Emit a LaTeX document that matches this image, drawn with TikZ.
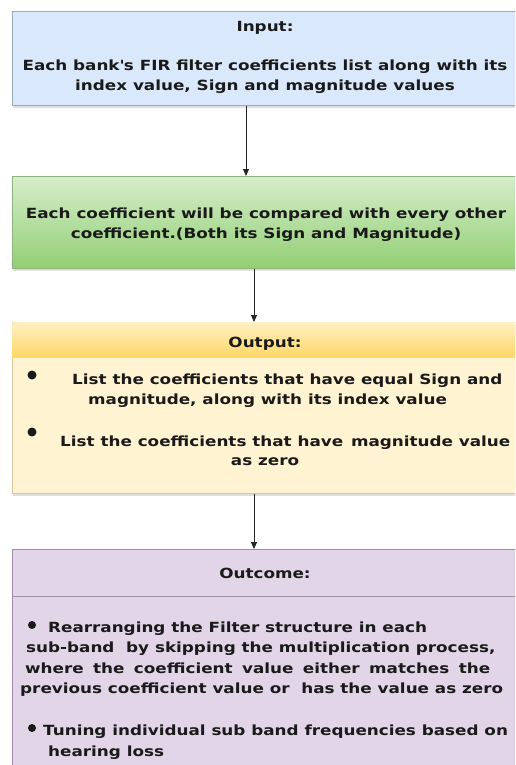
\documentclass[tikz,border=0pt]{standalone}
\usepackage{fontspec}
\setmainfont{DejaVu Sans}[FakeStretch=1.2]
\usetikzlibrary{shadows,arrows.meta}
\definecolor{blueF}{HTML}{DAE8FC}
\definecolor{blueD}{HTML}{9AA9BC}
\definecolor{greenT}{HTML}{D5EDCB}
\definecolor{greenB}{HTML}{93CF74}
\definecolor{greenD}{HTML}{8FB37E}
\definecolor{yelT}{HTML}{FFF0C4}
\definecolor{yelB}{HTML}{FFD766}
\definecolor{yelF}{HTML}{FFF3D2}
\definecolor{yelD}{HTML}{D8C79A}
\definecolor{purF}{HTML}{E1D5E7}
\definecolor{purD}{HTML}{9D8DA8}
\definecolor{txt}{HTML}{1A1A1A}
\begin{document}
\begin{tikzpicture}[x=1pt,y=1pt,
  box/.style={draw, line width=0.8pt, anchor=north west, inner sep=0pt,
    drop shadow={opacity=0.25, shadow xshift=1pt, shadow yshift=-2.5pt}},
  lbl/.style={inner sep=0pt, text=txt, font=\fontsize{14}{20}\bfseries\selectfont},
  bul/.style={fill=txt, draw=none, circle, inner sep=0pt, minimum size=9pt},
  arr/.style={-{Triangle[length=7pt,width=6pt]}, line width=0.9pt, draw=black!85}]
\clip (0,0) rectangle (515,-765);
\fill[white] (0,0) rectangle (515,-765);
% boxes
\node[box, fill=blueF, draw=blueD, minimum width=510pt, minimum height=94pt] (inp) at (12,-11) {};
\node[box, top color=greenT, bottom color=greenB, draw=greenD, minimum width=510pt, minimum height=92pt] (cmp) at (12,-176) {};
\node[box, fill=yelF, draw=yelD, minimum width=510pt, minimum height=171pt] (out) at (12,-322) {};
\node[anchor=north west, inner sep=0pt, top color=yelT, bottom color=yelB, minimum width=509pt, minimum height=34.5pt] (outh) at (12.4,-322.4) {};
\node[box, fill=purF, draw=purD, minimum width=510pt, minimum height=230pt] (oc) at (12,-549) {};
\draw[purD, line width=0.8pt] (12,-596) -- (522,-596);
% texts
\node[lbl, anchor=base] (t1) at (265,-32) {Input:};
\node[lbl, anchor=base] (t2) at (265,-71) {Each bank\textquotesingle s FIR filter coefficients list along with its};
\node[lbl, anchor=base] (t3) at (265,-91) {index value, Sign and magnitude values};
\node[lbl, anchor=base] (t4) at (266,-218) {Each coefficient will be compared with every other};
\node[lbl, anchor=base] (t5) at (266,-238) {coefficient.(Both its Sign and Magnitude)};
\node[lbl, anchor=base] (t6) at (265,-347) {Output:};
\node[bul] (b1) at (32,-375) {};
\node[lbl, anchor=base west] (t7) at (72,-384) {List the coefficients that have equal Sign and};
\node[lbl, anchor=base west] (t8) at (88,-404) {magnitude, along with its index value};
\node[bul] (b2) at (32,-432) {};
\node[lbl, anchor=base west] (t9) at (60,-446) {List the coefficients that have\hspace{2pt} magnitude value};
\node[lbl, anchor=base] (t10) at (265,-465) {as zero};
\node[lbl, anchor=base] (t11) at (265,-578) {Outcome:};
\node[bul, minimum size=8pt] (b3) at (32,-625) {};
\node[lbl, anchor=base west] (t12) at (48,-632) {Rearranging the Filter structure in each};
\node[lbl, anchor=base west] (t13) at (26,-652) {sub-band\ \ by skipping the multiplication process,};
\node[lbl, anchor=base west] (t14) at (25,-673) {\makebox[465pt][s]{where the coefficient value either matches the}};
\node[lbl, anchor=base west] (t15) at (20,-693) {previous coefficient value or\ \ has the value as zero};
\node[bul, minimum size=8pt] (b4) at (32,-728) {};
\node[lbl, anchor=base west] (t16) at (43,-735) {Tuning individual sub band frequencies based on};
\node[lbl, anchor=base west] (t17) at (48,-756) {hearing loss};
% arrows
\coordinate (a1) at (246,0);
\coordinate (a2) at (254,0);
\draw[arr] (a1 |- inp.south) -- (a1 |- cmp.north);
\draw[arr] (a2 |- cmp.south) -- (a2 |- out.north);
\draw[arr] (a2 |- out.south) -- (a2 |- oc.north);
\end{tikzpicture}
\end{document}
